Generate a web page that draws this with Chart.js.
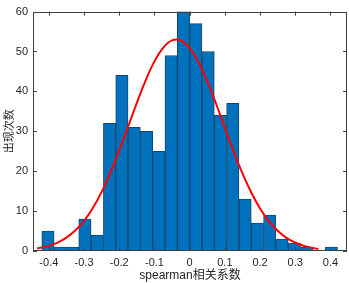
<!DOCTYPE html>
<html>
<head>
<meta charset="utf-8">
<script src="https://cdn.jsdelivr.net/npm/chart.js@4"></script>
<style>
  html, body { margin: 0; padding: 0; background: #fff; }
  #wrap { width: 349px; height: 283px; }
</style>
</head>
<body>
<div id="wrap"><canvas id="histChart" width="349" height="283"></canvas></div>
<script>
// histogram bins: left edge -0.42, width 0.035
const binStart = -0.42;
const binWidth = 0.035;
const counts = [5, 1, 1, 8, 4, 32, 44, 31, 30, 25, 49, 60, 57, 50, 34, 37, 13, 7, 9, 3, 2, 1, 0, 1];

// red fitted curve
const curveX = [-0.433, -0.4, -0.375, -0.35, -0.325, -0.3, -0.275, -0.25, -0.225, -0.2, -0.175, -0.15, -0.125, -0.1, -0.075, -0.05, -0.025, 0, 0.025, 0.05, 0.075, 0.1, 0.125, 0.15, 0.175, 0.2, 0.225, 0.25, 0.275, 0.3, 0.325, 0.35, 0.366];
const curveY = [0.64, 1.29, 2.12, 3.35, 5.13, 7.57, 10.78, 14.82, 19.67, 25.19, 31.13, 37.13, 42.77, 47.53, 50.98, 52.78, 52.75, 50.88, 47.36, 42.55, 36.9, 30.88, 24.95, 19.46, 14.65, 10.64, 7.46, 5.05, 3.3, 2.08, 1.27, 0.74, 0.52];

const xTicks = [-0.4, -0.3, -0.2, -0.1, 0, 0.1, 0.2, 0.3, 0.4];
const yTicks = [0, 10, 20, 30, 40, 50, 60];

const axisColor = '#404040';
const tickFont = { family: 'Liberation Sans, Arial, sans-serif', size: 11 };

const barData = counts.map((c, i) => ({ x: binStart + binWidth * (i + 0.5), y: c }));
const lineData = curveX.map((x, i) => ({ x, y: curveY[i] }));

// matlab-style box with inward ticks
const boxPlugin = {
    id: 'box',
    afterDraw(chart) {
        const { ctx, chartArea: a, scales } = chart;
        ctx.save();
        ctx.strokeStyle = axisColor;
        ctx.lineWidth = 1;
        ctx.strokeRect(Math.round(a.left) + 0.5, Math.round(a.top) + 0.5,
            Math.round(a.right - a.left) - 1, Math.round(a.bottom - a.top) - 1);
        ctx.beginPath();
        xTicks.forEach(v => {
            const px = Math.round(scales.x.getPixelForValue(v)) + 0.5;
            ctx.moveTo(px, a.bottom); ctx.lineTo(px, a.bottom - 4);
            ctx.moveTo(px, a.top); ctx.lineTo(px, a.top + 4);
        });
        yTicks.forEach(v => {
            const py = Math.round(scales.y.getPixelForValue(v)) + 0.5;
            ctx.moveTo(a.left, py); ctx.lineTo(a.left + 4, py);
            ctx.moveTo(a.right, py); ctx.lineTo(a.right - 4, py);
        });
        ctx.stroke();
        ctx.restore();
    }
};

const ctx = document.getElementById('histChart').getContext('2d');
new Chart(ctx, {
    type: 'bar',
    data: {
        datasets: [{
            type: 'bar',
            data: barData,
            backgroundColor: '#0072BD',
            borderColor: '#1a4668',
            borderWidth: 1,
            borderSkipped: false,
            barPercentage: 1,
            categoryPercentage: 1,
            order: 2
        }, {
            type: 'line',
            data: lineData,
            borderColor: '#ff0000',
            borderWidth: 2,
            pointRadius: 0,
            tension: 0.4,
            fill: false,
            order: 1
        }]
    },
    options: {
        responsive: false,
        animation: false,
        layout: { padding: { left: 0, right: 2, top: 5, bottom: 0 } },
        scales: {
            x: {
                type: 'linear',
                offset: false,
                min: -0.445,
                max: 0.447,
                grid: { display: false, drawTicks: false, offset: false },
                border: { display: false },
                afterBuildTicks: scale => { scale.ticks = xTicks.map(v => ({ value: v })); },
                afterFit: scale => { scale.height = 32; },
                ticks: {
                    color: '#262626',
                    font: tickFont,
                    padding: 5,
                    maxRotation: 0,
                    callback: v => String(Number(v.toFixed(1)))
                },
                title: {
                    display: true,
                    text: 'spearman相关系数',
                    color: '#262626',
                    font: { family: 'Liberation Sans, Noto Sans CJK SC, sans-serif', size: 12 },
                    padding: { top: 0, bottom: 0 }
                }
            },
            y: {
                min: 0,
                max: 60,
                grid: { display: false, drawTicks: false },
                border: { display: false },
                afterBuildTicks: scale => { scale.ticks = yTicks.map(v => ({ value: v })); },
                afterFit: scale => { scale.width = 33; },
                ticks: { color: '#262626', font: tickFont, padding: 5 },
                title: {
                    display: true,
                    text: '出现次数',
                    color: '#262626',
                    font: { family: 'Noto Sans CJK SC, sans-serif', size: 11 },
                    padding: { top: 2, bottom: 0 }
                }
            }
        },
        plugins: {
            legend: { display: false },
            tooltip: { enabled: false }
        }
    },
    plugins: [boxPlugin]
});
</script>
</body>
</html>
